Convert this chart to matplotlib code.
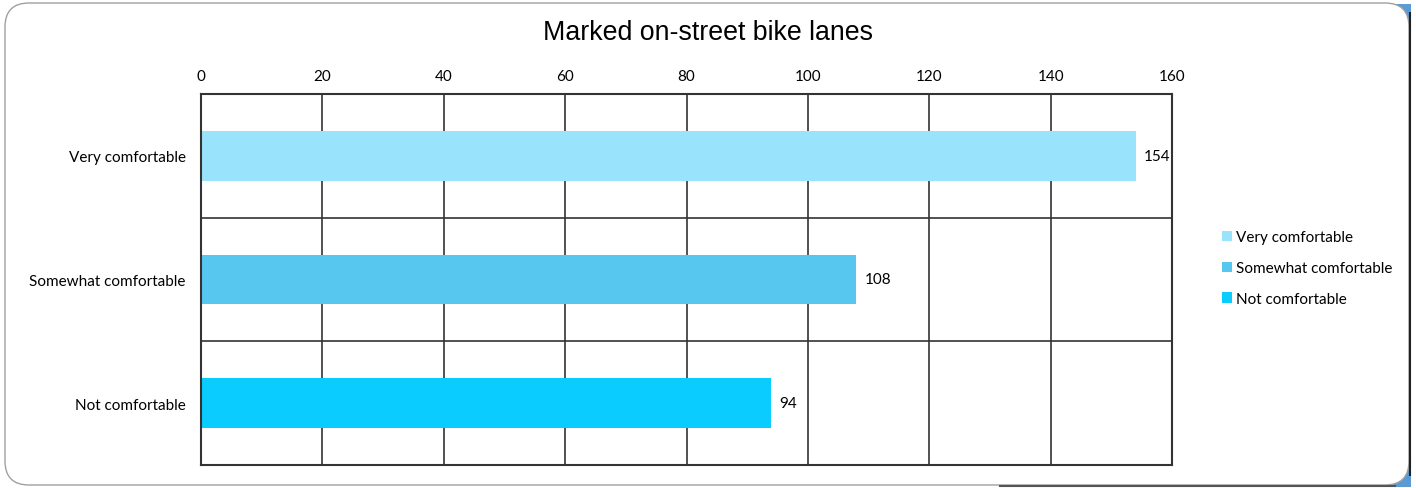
import matplotlib.pyplot as plt
from matplotlib.patches import FancyBboxPatch, Rectangle

categories = ["Very comfortable", "Somewhat comfortable", "Not comfortable"]
values = [154, 108, 94]
colors = ["#99E3FC", "#58C7F0", "#0ACCFF"]
xticks = [0, 20, 40, 60, 80, 100, 120, 140, 160]

W, H = 1416, 489
fig = plt.figure(figsize=(W / 100, H / 100), dpi=100)

# frame drawn in pixel coordinates
bg = fig.add_axes([0, 0, 1, 1])
bg.set_xlim(0, W)
bg.set_ylim(H, 0)
bg.axis("off")
bg.add_patch(Rectangle((1385, 5), 26, 483, facecolor="#5B9BD5", edgecolor="none", zorder=0))
bg.add_patch(FancyBboxPatch((5, 4), 1404, 482, boxstyle="round,pad=0,rounding_size=24",
                            facecolor="white", edgecolor="#A0A0A0", linewidth=1, zorder=1))
bg.plot([1410, 1410], [14, 476], color="#222222", linewidth=1.5, zorder=2)
bg.plot([1000, 1395], [487, 487], color="#555555", linewidth=1.5, zorder=2)

ax = fig.add_axes([201 / W, 1 - 466 / H, (1172 - 201) / W, (466 - 95) / H])
ax.patch.set_alpha(0)

ypos = list(range(len(categories)))
ax.barh(ypos, values, height=0.4, color=colors, zorder=2)
for y, v in zip(ypos, values):
    ax.text(v + 1.3, y, str(v), va="center", ha="left", fontsize=11, family="Lato")

ax.set_xlim(0, 160)
ax.set_ylim(2.5, -0.5)
ax.set_xticks(xticks)
ax.xaxis.tick_top()
ax.tick_params(axis="x", length=0, pad=8, labelsize=11)
ax.set_yticks(ypos)
ax.set_yticklabels(categories)
ax.tick_params(axis="y", length=0, pad=11, labelsize=11)
for lbl in ax.get_xticklabels() + ax.get_yticklabels():
    lbl.set_family("Lato")

ax.set_yticks([0.5, 1.5], minor=True)
ax.tick_params(axis="y", which="minor", length=0)
ax.grid(axis="x", color="#333333", linewidth=1.2, zorder=1)
ax.grid(axis="y", which="minor", color="#333333", linewidth=1.2, zorder=1)
for s in ax.spines.values():
    s.set_color("#333333")
    s.set_linewidth(1.5)

fig.text(708 / W, 1 - 33 / H, "Marked on-street bike lanes", ha="center", va="center",
         fontsize=19.3, family="Liberation Sans")

handles = [Rectangle((0, 0), 1, 1, facecolor=c) for c in colors]
fig.legend(handles, categories, loc="center left", bbox_to_anchor=(1208 / W, 1 - 269 / H),
           frameon=False, prop={"family": "Lato", "size": 11}, handlelength=0.65,
           handleheight=0.65, handletextpad=0.3, labelspacing=1.1)

fig.savefig("out.png", dpi=100)
